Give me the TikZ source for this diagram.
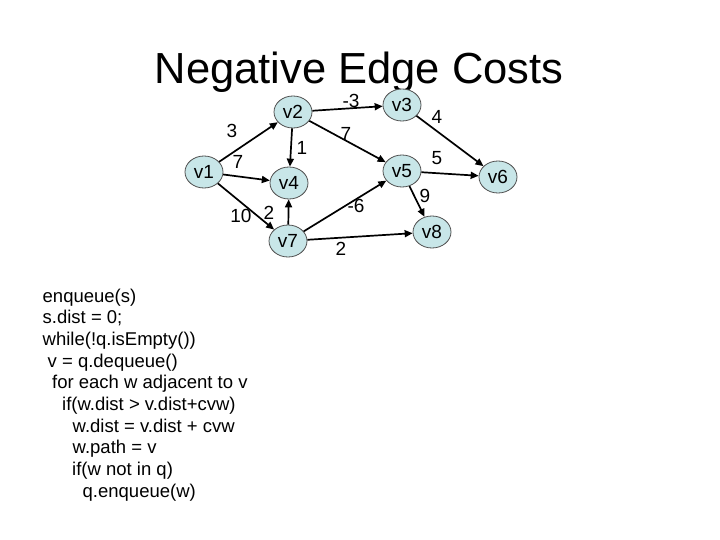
\documentclass[tikz,border=0pt]{standalone}
\usepackage{fontspec}
\setmainfont{Liberation Sans}
\usetikzlibrary{arrows.meta,shapes.geometric}
\definecolor{nodefill}{RGB}{200,230,232}
\definecolor{nodeline}{RGB}{80,80,80}
\tikzset{
  vert/.style={ellipse, draw=nodeline, line width=0.8pt, fill=nodefill, minimum width=38pt, minimum height=32pt, inner sep=0pt, font=\fontsize{19}{21}\selectfont},
  edge/.style={draw=black, line width=1.7pt, -{Triangle[length=8pt,width=7pt]}},
  lbl/.style={inner sep=0pt, font=\fontsize{19}{21}\selectfont},
  codeline/.style={anchor=base west, inner sep=0pt, font=\fontsize{18.5}{21}\selectfont}
}
\begin{document}
\begin{tikzpicture}[x=1pt,y=-1pt]
\useasboundingbox (0,0) rectangle (720,540);
\node[anchor=base, inner sep=0pt, font=\fontsize{43.5}{50}\selectfont] (title) at (359,84) {Negative Edge Costs};

\node[vert] (v1) at (204,172) {v1};
\node[vert] (v2) at (293,112) {v2};
\node[vert] (v3) at (402,105) {v3};
\node[vert] (v4) at (289,183) {v4};
\node[vert] (v5) at (402,171) {v5};
\node[vert] (v6) at (498,177) {v6};
\node[vert] (v7) at (288,241) {v7};
\node[vert] (v8) at (432,232) {v8};

\draw[edge] (v1) -- (v2);
\draw[edge] (v1) -- (v4);
\draw[edge] (v1) -- (v7);
\draw[edge] (v2) -- (v3);
\draw[edge] (v2) -- (v4);
\draw[edge] (v2) -- (v5);
\draw[edge] (v3) -- (v6);
\draw[edge] (v5) -- (v6);
\draw[edge] (v5) -- (v8);
\draw[edge] (v7) -- (v4);
\draw[edge] (v7) -- (v5);
\draw[edge] (v7) -- (v8);

\node[lbl] (l12) at (232,131) {3};
\node[lbl] (l14) at (238,162) {7};
\node[lbl] (l17) at (241,216) {10};
\node[lbl] (l23) at (351,101) {-3};
\node[lbl] (l24) at (302,148) {1};
\node[lbl] (l25) at (346,134) {7};
\node[lbl] (l36) at (437,117) {4};
\node[lbl] (l56) at (437,158) {5};
\node[lbl] (l58) at (425,196) {9};
\node[lbl] (l74) at (269,213) {2};
\node[lbl] (l75) at (356,206) {-6};
\node[lbl] (l78) at (341,249) {2};

\node[codeline] (c1) at (42.5,302) {enqueue(s)};
\node[codeline] (c2) at (42.5,323.7) {s.dist = 0;};
\node[codeline] (c3) at (42.5,345.4) {while(!q.isEmpty())};
\node[codeline] (c4) at (47.5,367.1) {v = q.dequeue()};
\node[codeline] (c5) at (52,388.8) {for each w adjacent to v};
\node[codeline] (c6) at (62,410.5) {if(w.dist > v.dist+cvw)};
\node[codeline] (c7) at (72.5,432.2) {w.dist = v.dist + cvw};
\node[codeline] (c8) at (72.5,453.9) {w.path = v};
\node[codeline] (c9) at (72,475.6) {if(w not in q)};
\node[codeline] (c10) at (82.5,497.3) {q.enqueue(w)};
\end{tikzpicture}
\end{document}
